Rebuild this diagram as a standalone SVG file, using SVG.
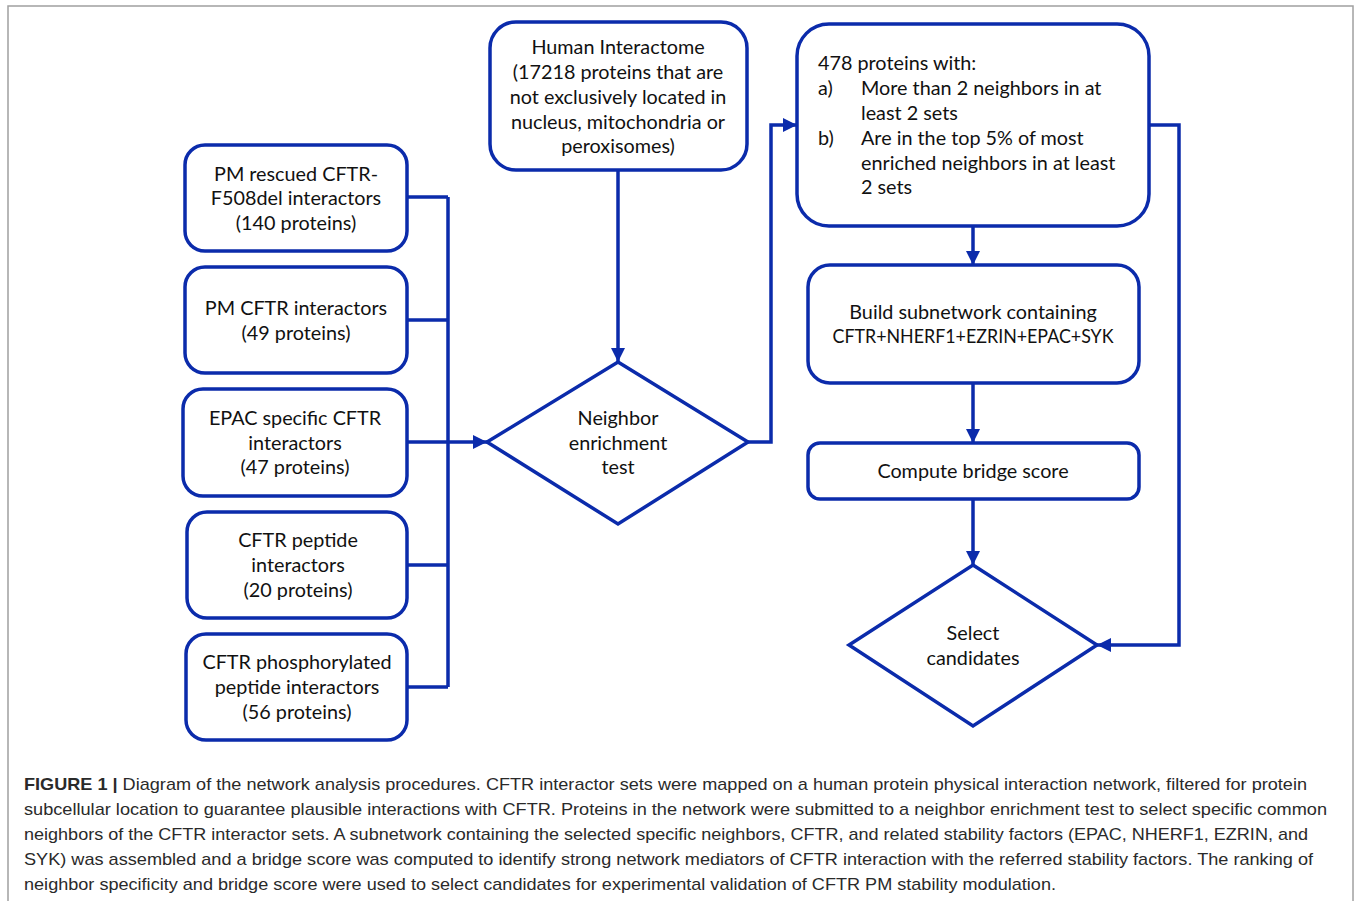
<svg xmlns="http://www.w3.org/2000/svg" width="1355" height="901" viewBox="0 0 1355 901">
<style>
.n{fill:#fff;stroke:#0b2bab;stroke-width:3.5}
.t{font-family:Lato,"Open Sans",sans-serif;font-size:19.8px;fill:#111;text-anchor:middle}
.l{text-anchor:start}
.c{fill:none;stroke:#0b2bab;stroke-width:3.5}
.cap{font-family:"Liberation Sans",Arial,sans-serif;font-size:17px;fill:#2a2a2a}
</style>
<defs>
<marker id="a" viewBox="0 0 10 10" refX="10" refY="5" markerWidth="4" markerHeight="4" orient="auto" markerUnits="strokeWidth">
<path d="M0,0L10,5L0,10z" fill="#0b2bab"/>
</marker>
</defs>
<rect x="8" y="6" width="1345" height="910" fill="#fff" stroke="#a0a0a0" stroke-width="1.5"/>
<g id="connectors">
<path class="c" d="M407,197H448M407,320H448M407,565H448M407,687H448M448,197V687"/>
<path class="c" d="M407,442H487" marker-end="url(#a)"/>
<path class="c" d="M618,170V362" marker-end="url(#a)"/>
<path class="c" d="M748,442H771V125H797" marker-end="url(#a)"/>
<path class="c" d="M973,226V265" marker-end="url(#a)"/>
<path class="c" d="M973,383V443" marker-end="url(#a)"/>
<path class="c" d="M973,499V565" marker-end="url(#a)"/>
<path class="c" d="M1149,125H1179V645H1097" marker-end="url(#a)"/>
</g>
<g id="n1"><rect class="n" x="185" y="145" width="222" height="106" rx="20"/>
<text class="t" x="296" y="181">PM rescued CFTR-</text><text class="t" x="296" y="205">F508del interactors</text><text class="t" x="296" y="230">(140 proteins)</text></g>
<g id="n2"><rect class="n" x="185" y="267" width="222" height="106" rx="20"/>
<text class="t" x="296" y="315">PM CFTR interactors</text><text class="t" x="296" y="340">(49 proteins)</text></g>
<g id="n3"><rect class="n" x="183" y="389" width="224" height="107" rx="20"/>
<text class="t" x="295" y="425">EPAC specific CFTR</text><text class="t" x="295" y="450">interactors</text><text class="t" x="295" y="474">(47 proteins)</text></g>
<g id="n4"><rect class="n" x="187" y="512" width="220" height="106" rx="20"/>
<text class="t" x="298" y="547">CFTR peptide</text><text class="t" x="298" y="572">interactors</text><text class="t" x="298" y="597">(20 proteins)</text></g>
<g id="n5"><rect class="n" x="186" y="634" width="221" height="106" rx="20"/>
<text class="t" x="297" y="669">CFTR phosphorylated</text><text class="t" x="297" y="694">peptide interactors</text><text class="t" x="297" y="719">(56 proteins)</text></g>
<g id="human"><rect class="n" x="490" y="22" width="257" height="148" rx="26"/>
<text class="t" x="618" y="54">Human Interactome</text><text class="t" x="618" y="79">(17218 proteins that are</text><text class="t" x="618" y="104">not exclusively located in</text><text class="t" x="618" y="129">nucleus, mitochondria or</text><text class="t" x="618" y="153">peroxisomes)</text></g>
<g id="neighbor"><polygon class="n" points="618,362 748,442 618,524 487,442"/>
<text class="t" x="618" y="425">Neighbor</text><text class="t" x="618" y="450">enrichment</text><text class="t" x="618" y="474">test</text></g>
<g id="p478"><rect class="n" x="797" y="24" width="352" height="202" rx="32"/>
<text class="t l" x="818" y="70">478 proteins with:</text>
<text class="t l" x="818" y="95">a)</text><text class="t l" x="861" y="95">More than 2 neighbors in at</text>
<text class="t l" x="861" y="120">least 2 sets</text>
<text class="t l" x="818" y="145">b)</text><text class="t l" x="861" y="145">Are in the top 5% of most</text>
<text class="t l" x="861" y="170">enriched neighbors in at least</text>
<text class="t l" x="861" y="194">2 sets</text></g>
<g id="build"><rect class="n" x="808" y="265" width="331" height="118" rx="22"/>
<text class="t" x="973" y="319">Build subnetwork containing</text><text class="t" x="973" y="343" textLength="281" lengthAdjust="spacingAndGlyphs">CFTR+NHERF1+EZRIN+EPAC+SYK</text></g>
<g id="bridge"><rect class="n" x="808" y="443" width="331" height="56" rx="12"/>
<text class="t" x="973" y="478">Compute bridge score</text></g>
<g id="select"><polygon class="n" points="973,565 1097,645 973,726 849,645"/>
<text class="t" x="973" y="640">Select</text><text class="t" x="973" y="665">candidates</text></g>
<g id="caption" class="cap">
<text x="24" y="790" textLength="1283" lengthAdjust="spacingAndGlyphs"><tspan font-weight="bold">FIGURE 1 |</tspan> Diagram of the network analysis procedures. CFTR interactor sets were mapped on a human protein physical interaction network, filtered for protein</text>
<text x="24" y="815" textLength="1303" lengthAdjust="spacingAndGlyphs">subcellular location to guarantee plausible interactions with CFTR. Proteins in the network were submitted to a neighbor enrichment test to select specific common</text>
<text x="24" y="840" textLength="1284" lengthAdjust="spacingAndGlyphs">neighbors of the CFTR interactor sets. A subnetwork containing the selected specific neighbors, CFTR, and related stability factors (EPAC, NHERF1, EZRIN, and</text>
<text x="24" y="865" textLength="1289" lengthAdjust="spacingAndGlyphs">SYK) was assembled and a bridge score was computed to identify strong network mediators of CFTR interaction with the referred stability factors. The ranking of</text>
<text x="24" y="890" textLength="1032" lengthAdjust="spacingAndGlyphs">neighbor specificity and bridge score were used to select candidates for experimental validation of CFTR PM stability modulation.</text>
</g>
</svg>
